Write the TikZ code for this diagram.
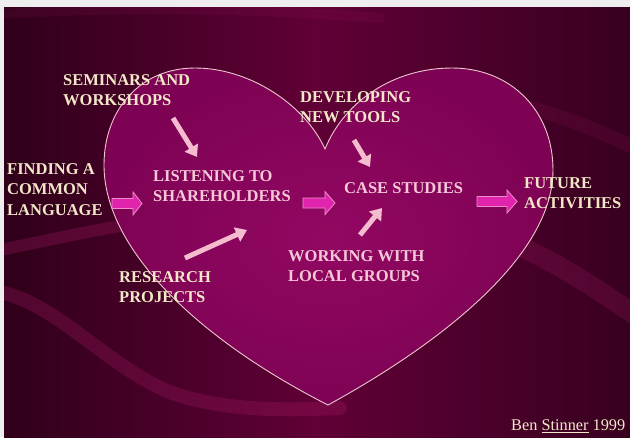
\documentclass[tikz,border=0pt]{standalone}
\usepackage{fontspec}
\setmainfont{Liberation Serif}
\usetikzlibrary{arrows.meta}

\definecolor{pagegray}{RGB}{238,238,238}
\definecolor{bgdark}{RGB}{48,0,26}
\definecolor{bgmid}{RGB}{96,0,54}
\definecolor{bgright}{RGB}{56,0,32}
\definecolor{heartin}{RGB}{146,8,98}
\definecolor{heartout}{RGB}{126,2,84}
\definecolor{heartedge}{RGB}{236,200,205}
\definecolor{cream}{RGB}{242,232,200}
\definecolor{blush}{RGB}{246,200,215}
\definecolor{pinkline}{RGB}{245,188,208}
\definecolor{fuchsia}{RGB}{224,36,172}
\definecolor{fuchsiaedge}{RGB}{240,140,205}
\definecolor{ribbon}{RGB}{180,30,110}

% fat block arrow: start point, body length, head length
\newcommand\fatarrow[3]{%
  \draw[fatarrowstyle] (#1) ++(0,-5) -- ++(#2,0) -- ++(0,-6.5) -- ++(#3,11.5)
    -- ++(-#3,11.5) -- ++(0,-6.5) -- ++(-#2,0) -- cycle;}

\begin{document}
\begin{tikzpicture}[x=1pt,y=-1pt,
  caption/.style={anchor=north west, inner sep=0pt, align=left, text=cream,
    font=\fontsize{16.5}{20.5}\selectfont\bfseries},
  pinkcaption/.style={caption, text=blush},
  pointer/.style={draw=pinkline, line width=5pt,
    -{Triangle[length=11pt,width=15pt]}},
  fatarrowstyle/.style={fill=fuchsia, draw=fuchsiaedge, line width=0.8pt, line join=miter},
  ribbonstyle/.style={draw=ribbon, line cap=round, opacity=0.25},
]
\useasboundingbox (0,0) rectangle (630,437);

% page and slide background
\fill[pagegray] (0,0) rectangle (630,437);
\shade[left color=bgdark, right color=bgright, middle color=bgmid]
  (4,7) rectangle (630,437);

% soft ribbons in the background
\begin{scope}
  \clip (4,7) rectangle (630,437);
  \draw[ribbonstyle, line width=10pt, opacity=0.1] (4,14) .. controls (120,6) and (250,8) .. (380,18);
  \draw[ribbonstyle, line width=12pt] (0,250) .. controls (50,240) and (100,228) .. (160,220);
  \draw[ribbonstyle, line width=14pt] (0,292) .. controls (60,305) and (110,370) .. (175,394)
    .. controls (230,412) and (290,410) .. (340,408);
  \draw[ribbonstyle, line width=20pt, opacity=0.2] (500,238) .. controls (560,262) and (600,292) .. (640,318);
  \draw[ribbonstyle, line width=14pt, opacity=0.12] (530,108) .. controls (570,118) and (600,132) .. (640,150);
\end{scope}

% the heart
\shade[inner color=heartin, outer color=heartout, draw=heartedge, line width=0.9pt]
  (325,149) .. controls (305,105) and (250,68) .. (195,68)
  .. controls (140,68) and (104,110) .. (104,165)
  .. controls (104,250) and (200,340) .. (328,405)
  .. controls (425,352) and (553,262) .. (553,170)
  .. controls (553,110) and (510,68) .. (452,68)
  .. controls (395,68) and (345,100) .. (325,149) -- cycle;

% labels
\node[caption] (semi) at (63,74) {SEMINARS AND\\WORKSHOPS};
\node[caption] (find) at (7,163) {FINDING A\\COMMON\\LANGUAGE};
\node[pinkcaption] (listen) at (153,170) {LISTENING TO\\SHAREHOLDERS};
\node[caption] (devel) at (300,91) {DEVELOPING\\NEW TOOLS};
\node[pinkcaption] (cases) at (344,182) {CASE STUDIES};
\node[caption] (future) at (524,177) {FUTURE\\ACTIVITIES};
\node[pinkcaption] (work) at (288,250) {WORKING WITH\\LOCAL GROUPS};
\node[caption] (research) at (119,271) {RESEARCH\\PROJECTS};
\node[anchor=north west, inner sep=0pt, text=cream,
  font=\fontsize{16.3}{19}\selectfont] (credit) at (511,420) {Ben \underline{Stinner} 1999};

% ends of the pointers
\coordinate (semiTail) at (173,118);
\coordinate (listenTop) at (197,157);
\coordinate (develTail) at (354,140);
\coordinate (casesTop) at (370,167);
\coordinate (researchTail) at (185,258);
\coordinate (listenLow) at (247,230);
\coordinate (workTail) at (360,235);
\coordinate (casesLow) at (382,208);

\draw[pointer] (semiTail) -- (listenTop);
\draw[pointer] (develTail) -- (casesTop);
\draw[pointer] (researchTail) -- (listenLow);
\draw[pointer] (workTail) -- (casesLow);

% block arrows along the main flow
\coordinate (flowA) at (112,203.5);
\coordinate (flowB) at (303,203);
\coordinate (flowC) at (477,201.5);
\fatarrow{flowA}{21}{9}
\fatarrow{flowB}{22}{10}
\fatarrow{flowC}{30}{10}
\end{tikzpicture}
\end{document}
